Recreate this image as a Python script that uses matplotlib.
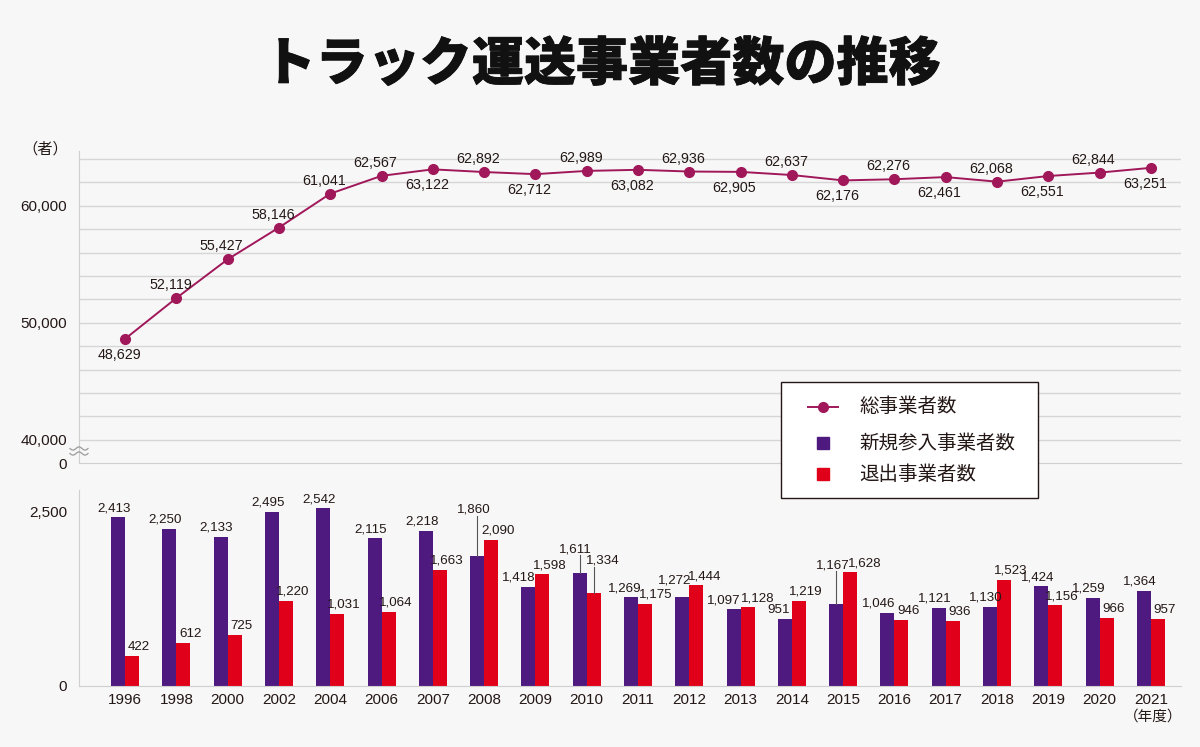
"""トラック運送事業者数の推移: 上段=総事業者数(折れ線)、下段=新規参入/退出(棒)。"""
import matplotlib
matplotlib.use('Agg')
import matplotlib.pyplot as plt
import matplotlib.patheffects as pe
from matplotlib.lines import Line2D
from matplotlib.patches import Rectangle
import numpy as np

plt.rcParams['font.family'] = ['Liberation Sans', 'Noto Sans CJK JP', 'DejaVu Sans']

# データ(年度ごと)
years = ['1996', '1998', '2000', '2002', '2004', '2006', '2007', '2008', '2009', '2010',
         '2011', '2012', '2013', '2014', '2015', '2016', '2017', '2018', '2019', '2020', '2021']
total = [48629, 52119, 55427, 58146, 61041, 62567, 63122, 62892, 62712, 62989,
         63082, 62936, 62905, 62637, 62176, 62276, 62461, 62068, 62551, 62844, 63251]
new_entry = [2413, 2250, 2133, 2495, 2542, 2115, 2218, 1860, 1418, 1611,
             1269, 1272, 1097, 951, 1167, 1046, 1121, 1130, 1424, 1259, 1364]
exits = [422, 612, 725, 1220, 1031, 1064, 1663, 2090, 1598, 1334,
         1175, 1444, 1128, 1219, 1628, 946, 936, 1523, 1156, 966, 957]
# 折れ線ラベルの上下(1=上, -1=下)
total_side = [-1, 1, 1, 1, 1, 1, -1, 1, -1, 1, -1, 1, -1, 1, -1, 1, -1, 1, -1, 1, -1]

BG = '#f7f7f7'
GRID = '#d6d6d6'
LINE_C = '#a0185a'
PURPLE = '#4f1a80'
RED = '#e0001a'
TXT = '#231815'
BAR_FS = 9.6


def fx(px):
    return px / 1200


def fy(py):
    return 1 - py / 747


fig = plt.figure(figsize=(12, 7.47), dpi=100, facecolor=BG)
ax1 = fig.add_axes([0.0658, 0.380, 0.918, 0.418], facecolor=BG)
ax2 = fig.add_axes([0.0658, 0.0817, 0.918, 0.262], facecolor=BG)
x = np.arange(len(years))
xlim = (-0.90, 20.58)

# ---- 上段: 総事業者数
ax1.plot(x, total, color=LINE_C, lw=1.4, marker='o', ms=7, zorder=3)
ax1.set_xlim(*xlim)
ax1.set_ylim(38000, 64700)
for g in range(40000, 64001, 2000):
    ax1.axhline(g, color=GRID, lw=1, zorder=1)
ax1.set_yticks([38000, 40000, 50000, 60000])
ax1.set_yticklabels(['0', '40,000', '50,000', '60,000'])
ax1.set_xticks([])
for s in ['top', 'right']:
    ax1.spines[s].set_visible(False)
for s in ['left', 'bottom']:
    ax1.spines[s].set_color('#cfcfcf')
ax1.tick_params(axis='y', length=0, pad=8.6, labelsize=11, labelcolor=TXT)
for xi, v, side in zip(x, total, total_side):
    ax1.annotate(f'{v:,}', (xi, v), xytext=(-6, 13 if side > 0 else -16),
                 textcoords='offset pixels', ha='center', va='center',
                 fontsize=10.3, color=TXT, zorder=4)
# 省略記号(波線2本)
t = np.linspace(0, 1, 40)
for py in (448.5, 453.5):
    fig.add_artist(Line2D(fx(70 + 18 * t), fy(py + 1.6 * np.sin(2 * np.pi * 1.5 * t)),
                          transform=fig.transFigure, color='#9a9a9a', lw=0.9, zorder=4))
fig.text(fx(45), fy(149), '（者）', ha='center', va='center', fontsize=11, color=TXT)

# ---- 下段: 新規参入/退出
w = 0.273
ax2.bar(x - w / 2, new_entry, w, color=PURPLE, zorder=2)
ax2.bar(x + w / 2, exits, w, color=RED, zorder=2)
ax2.set_xlim(*xlim)
ax2.set_ylim(0, 2800)
ax2.set_yticks([0, 2500])
ax2.set_yticklabels(['0', '2,500'])
ax2.set_xticks(x)
ax2.set_xticklabels(years)
for s in ['top', 'right']:
    ax2.spines[s].set_visible(False)
for s in ['left', 'bottom']:
    ax2.spines[s].set_color('#cfcfcf')
ax2.tick_params(axis='y', length=0, pad=8.6, labelsize=11, labelcolor=TXT)
ax2.tick_params(axis='x', length=0, pad=5, labelsize=11, labelcolor=TXT)

# ラベル位置の個別調整: index -> (dx px, 中心 y 値 or None, 引出線)
new_adj = {7: (-3, 2524, True), 9: (-4, 1957, True), 14: (-3, 1729, True),
           11: (-8, 1504, False), 8: (-10, None, False), 15: (-9, None, False),
           12: (-10, None, False), 13: (-6, None, False), 10: (-6, None, False)}
exit_adj = {9: (9, 1790, True), 14: (15, None, False), 12: (10, None, False),
            11: (8, None, False), 10: (11, None, False)}


def bar_labels(xs, vals, adj, dx0):
    for i, (xi, v) in enumerate(zip(xs, vals)):
        dx, yc, lead = adj.get(i, (dx0, None, False))
        if yc is None:
            ax2.annotate(f'{v:,}', (xi, v), xytext=(dx, 3), textcoords='offset pixels',
                         ha='center', va='bottom', fontsize=BAR_FS, color=TXT, zorder=4)
        else:
            ax2.annotate(f'{v:,}', (xi, yc), xytext=(dx, 0), textcoords='offset pixels',
                         ha='center', va='center', fontsize=BAR_FS, color=TXT, zorder=4)
            if lead:
                ax2.plot([xi, xi], [v, yc - 90], color='#555555', lw=0.8, zorder=3)


bar_labels(x - w / 2, new_entry, new_adj, -4)
bar_labels(x + w / 2, exits, exit_adj, 7)

fig.text(fx(1153), fy(717), '（年度）', ha='center', va='center', fontsize=10.5, color=TXT)

# ---- タイトル(少しだけ縁取りして太さを寄せる)
fig.text(0.502, fy(65), 'トラック運送事業者数の推移', ha='center', va='center',
         fontsize=37.5, fontweight='black', family=['Noto Sans CJK JP'], color='#111111',
         path_effects=[pe.withStroke(linewidth=0.6, foreground='#111111')])

# ---- 凡例(手描き)
fig.add_artist(Rectangle((fx(781), fy(498)), fx(1038) - fx(781), fy(382) - fy(498),
                         transform=fig.transFigure, facecolor='white', edgecolor=TXT,
                         lw=1, zorder=5))
fig.add_artist(Line2D([fx(808), fx(838)], [fy(407), fy(407)], transform=fig.transFigure,
                      color=LINE_C, lw=1.4, zorder=6))
fig.add_artist(Line2D([fx(823)], [fy(407)], transform=fig.transFigure, marker='o', ms=7,
                      color=LINE_C, zorder=6))
fig.add_artist(Line2D([fx(823)], [fy(443)], transform=fig.transFigure, marker='s', ms=9,
                      color=PURPLE, lw=0, zorder=6))
fig.add_artist(Line2D([fx(823)], [fy(474)], transform=fig.transFigure, marker='s', ms=9,
                      color=RED, lw=0, zorder=6))
for py, label in [(407, '総事業者数'), (443, '新規参入事業者数'), (474, '退出事業者数')]:
    fig.text(fx(859), fy(py), label, ha='left', va='center', fontsize=14, color=TXT,
             family=['Noto Sans CJK JP'], zorder=7)

fig.savefig('out.png', dpi=100, facecolor=BG)
